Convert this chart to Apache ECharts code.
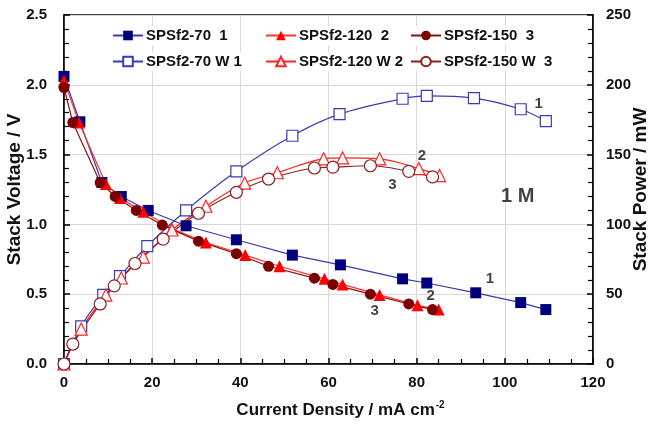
<!DOCTYPE html>
<html><head><meta charset="utf-8">
<script src="https://cdn.jsdelivr.net/npm/echarts@6/dist/echarts.min.js"></script>
<style>html,body{margin:0;padding:0;background:#fff}#c{width:654px;height:425px}</style>
</head><body><div id="c"></div>
<script>
// Series 1: SPSf2-70
const x1 = [0, 3.6, 8.6, 13.0, 19.1, 27.7, 39.1, 51.8, 62.7, 76.8, 82.3, 93.4, 103.6, 109.3];
const v1 = [2.06, 1.735, 1.30, 1.20, 1.10, 0.99, 0.89, 0.78, 0.71, 0.61, 0.58, 0.51, 0.44, 0.39];
const xp1 = [0, 3.9, 8.9, 12.7, 18.9, 27.7, 39.1, 51.8, 62.5, 76.8, 82.3, 93.0, 103.6, 109.3];
const p1 = [0, 27, 49.5, 63, 84.5, 110, 138, 163.5, 179, 190, 192, 190.5, 182.5, 174];
// Series 2: SPSf2-120
const x2 = [0, 3.4, 9.5, 12.7, 18.0, 24.5, 32.2, 41.1, 48.9, 59.1, 63.2, 71.6, 80.2, 85.0];
const v2 = [2.03, 1.73, 1.29, 1.19, 1.09, 0.97, 0.87, 0.78, 0.70, 0.61, 0.57, 0.495, 0.42, 0.39];
const xp2 = [0, 3.9, 9.5, 13.0, 18.0, 24.5, 32.2, 41.0, 48.4, 58.9, 63.2, 71.6, 80.5, 85.2];
const p2 = [0, 25, 49.4, 61.6, 76.6, 96, 113, 129.6, 137, 147, 147.6, 147, 140, 135];
// Series 3: SPSf2-150
const x3 = [0, 2.0, 8.2, 11.6, 16.4, 22.3, 30.5, 39.1, 46.4, 56.8, 61.0, 69.5, 78.2, 83.6];
const v3 = [1.98, 1.73, 1.30, 1.20, 1.10, 0.995, 0.88, 0.79, 0.70, 0.615, 0.57, 0.50, 0.43, 0.39];
const xp3 = [0, 2.0, 8.2, 11.4, 16.1, 22.5, 30.5, 39.1, 46.4, 56.8, 61.0, 69.5, 78.2, 83.6];
const p3 = [0, 14.3, 43, 56, 72, 89.5, 108, 123, 132.5, 140.4, 141, 142, 138, 134];
// Curve annotations
const notesV = [[96.6, 0.61, '1'], [83.2, 0.49, '2'], [70.5, 0.38, '3']];
const notesP = [[107.7, 186, '1'], [81.2, 149, '2'], [74.5, 128, '3']];
const noteConc = [[102.9, 1.20, '1 M']];
const seriesNames = ['SPSf2-70  1', 'SPSf2-120  2', 'SPSf2-150  3', 'SPSf2-70 W 1', 'SPSf2-120 W 2', 'SPSf2-150 W  3'];

const zip = (a, b) => a.map((v, i) => [v, b[i]]);
const F = 'Liberation Sans, Arial, sans-serif';
const lab = {fontFamily: F, fontWeight: 'bold', fontSize: 15, color: '#111'};

function vSeries(name, xs, ys, color, lineColor, symbol, size) {
  return {name, type: 'line', yAxisIndex: 0, data: zip(xs, ys), symbol, symbolSize: size,
    itemStyle: {color: color, borderColor: color, borderWidth: 0},
    lineStyle: {color: lineColor, width: 1.2}, z: 3, animation: false};
}
function pSeries(name, xs, ys, color, symbol, size) {
  return {name, type: 'line', yAxisIndex: 1, data: zip(xs, ys), symbol, symbolSize: size, smooth: 0.35,
    itemStyle: {color: '#fff', borderColor: color, borderWidth: 1.2},
    lineStyle: {color: color, width: 1.2}, z: 3, animation: false};
}
function noteSeries(arr, axis, size) {
  return {type: 'scatter', yAxisIndex: axis, data: arr.map(a => ({value: [a[0], a[1]], name: a[2]})),
    symbolSize: 0, silent: true, animation: false, z: 5,
    label: {show: true, position: 'inside', formatter: p => p.name, fontFamily: F, fontWeight: 'bold', fontSize: size, color: '#111'}};
}
const legendPos = [[110, 26], [263, 26], [408, 26], [110, 52], [263, 52], [408, 52]];
const legends = seriesNames.map((n, i) => ({data: [n], left: legendPos[i][0], top: legendPos[i][1],
  itemWidth: 30, itemHeight: 12, itemGap: 4, textStyle: {fontFamily: F, fontWeight: 'bold', fontSize: 15, color: '#111', padding: [0, 0, 0, -2]},
  backgroundColor: '#fff', padding: [2, 2, 2, 2], selectedMode: false}));

const chart = echarts.init(document.getElementById('c'), null, {renderer: 'canvas'});
chart.setOption({
  animation: false,
  backgroundColor: '#fff',
  grid: {left: 64, right: 61, top: 15, bottom: 61, show: true, borderColor: '#000', borderWidth: 1.5, backgroundColor: 'transparent', containLabel: false, outerBoundsMode: 'none'},
  legend: legends,
  xAxis: {type: 'value', min: 0, max: 120, interval: 20,
    name: '{a|Current Density / mA cm}{s|-2}', nameLocation: 'middle', nameGap: 36, nameMoveOverlap: false,
    nameTextStyle: {padding: [0, 0, 0, 24], rich: {a: {fontFamily: F, fontWeight: 'bold', fontSize: 17, color: '#111'}, s: {fontFamily: F, fontWeight: 'bold', fontSize: 10, color: '#111', verticalAlign: 'top', padding: [0, 0, 10, 1]}}},
    axisLine: {lineStyle: {color: '#000', width: 1.5}},
    axisTick: {inside: true, length: 6, lineStyle: {color: '#000', width: 1.5}},
    minorTick: {show: true, splitNumber: 4, length: 5, lineStyle: {color: '#000', width: 1.2}},
    axisLabel: Object.assign({margin: 11}, lab),
    splitLine: {show: true, lineStyle: {color: '#d8d8d8', width: 1}}},
  yAxis: [
    {type: 'value', min: 0, max: 2.5, interval: 0.5, position: 'left',
      name: 'Stack Voltage / V', nameLocation: 'middle', nameGap: 40, nameRotate: 90, nameMoveOverlap: false,
      nameTextStyle: {fontFamily: F, fontWeight: 'bold', fontSize: 19, color: '#111'},
      axisLine: {show: true, lineStyle: {color: '#000', width: 1.5}},
      axisTick: {inside: true, length: 6, lineStyle: {color: '#000', width: 1.5}},
      minorTick: {show: true, splitNumber: 5, length: 5, lineStyle: {color: '#000', width: 1.2}},
      axisLabel: Object.assign({margin: 17, formatter: v => v.toFixed(1)}, lab),
      splitLine: {show: true, lineStyle: {color: '#d8d8d8', width: 1}}},
    {type: 'value', min: 0, max: 250, interval: 50, position: 'right',
      name: 'Stack Power / mW', nameLocation: 'middle', nameGap: 38, nameRotate: 90, nameMoveOverlap: false,
      nameTextStyle: {fontFamily: F, fontWeight: 'bold', fontSize: 19, color: '#111'},
      axisLine: {show: true, lineStyle: {color: '#000', width: 1.5}},
      axisTick: {inside: true, length: 6, lineStyle: {color: '#000', width: 1.5}},
      minorTick: {show: true, splitNumber: 5, length: 5, lineStyle: {color: '#000', width: 1.2}},
      axisLabel: Object.assign({margin: 13}, lab),
      splitLine: {show: false}}
  ],
  series: [
    vSeries(seriesNames[0], x1, v1, '#00007f', '#3a3ab0', 'rect', 11),
    vSeries(seriesNames[1], x2, v2, '#ff0000', '#ff3030', 'triangle', 12),
    vSeries(seriesNames[2], x3, v3, '#7a0000', '#8a1010', 'circle', 11),
    pSeries(seriesNames[3], xp1, p1, '#3a3ab8', 'rect', 11),
    pSeries(seriesNames[4], xp2, p2, '#ff2020', 'triangle', 12),
    pSeries(seriesNames[5], xp3, p3, '#8a2020', 'circle', 12),
    noteSeries(notesV, 0, 15),
    noteSeries(notesP, 1, 15),
    noteSeries(noteConc, 0, 20)
  ]
});
</script></body></html>
